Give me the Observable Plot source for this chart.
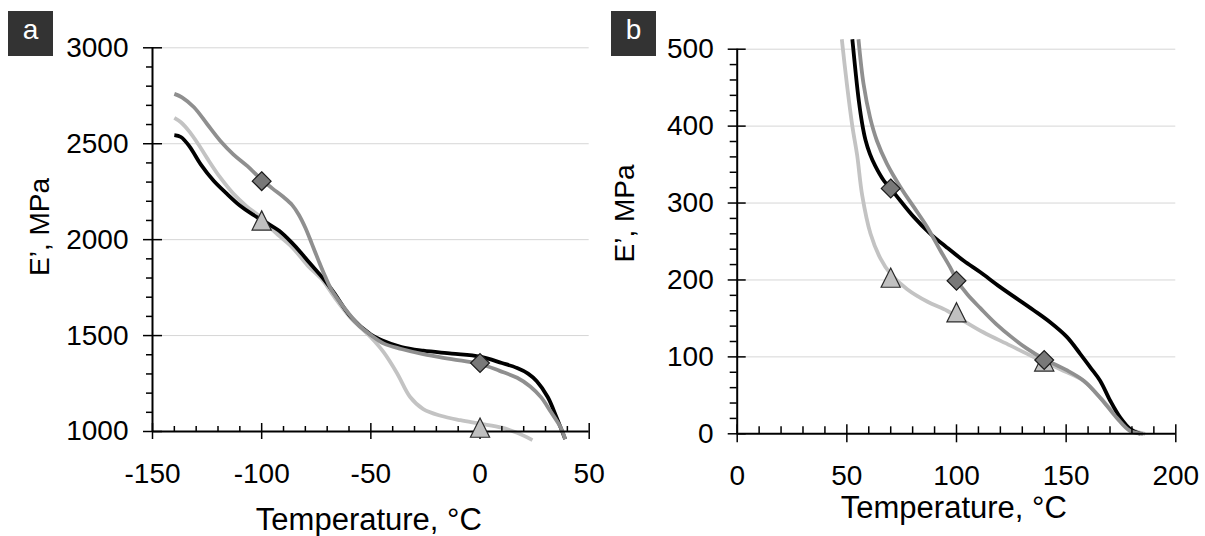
<!DOCTYPE html>
<html><head><meta charset="utf-8">
<script src="https://cdn.jsdelivr.net/npm/d3@7"></script>
<script src="https://cdn.jsdelivr.net/npm/@observablehq/plot@0.6"></script>
<style>
body{margin:0;background:#fff;}
#wrap{position:relative;width:1205px;height:536px;overflow:hidden;font-family:"Liberation Sans",Arial,sans-serif;background:#fff;}
.panel{position:absolute;top:0;}
.tag{position:absolute;background:#333;color:#fff;font-size:28px;line-height:37px;text-align:center;width:45px;height:45px;top:11px;}
</style></head><body>
<div id="wrap">
 <div id="pa" class="panel" style="left:0"></div>
 <div id="pb" class="panel" style="left:600px"></div>
 <div class="tag" style="left:8px">a</div>
 <div class="tag" style="left:611px">b</div>
</div>
<script>
const FONT = '"Liberation Sans", Arial, sans-serif';
const xTitle = "Temperature, °C";
const yTitle = "E’, MPa";

// ---------- panel a ----------
const aXTicks = [-150, -100, -50, 0, 50];
const aYTicks = [1000, 1500, 2000, 2500, 3000];
const aBlackT = [-140, -137, -133, -128, -122, -116, -110, -104, -98, -92, -86, -82, -78, -72, -67, -59, -50, -45, -36, -26, -13, 0, 10, 17, 22, 26, 31, 35, 39];
const aBlackE = [2545, 2535, 2485, 2394, 2307, 2240, 2178, 2130, 2090, 2046, 1982, 1932, 1878, 1800, 1725, 1595, 1505, 1476, 1440, 1421, 1406, 1390, 1357, 1331, 1302, 1262, 1180, 1075, 960];
const aMedT = [-140, -136.5, -131, -125, -119, -113, -106.5, -100, -95, -90, -86, -83, -80, -77, -74, -71, -68, -62, -56, -50, -44, -36, -26, -13, 0, 9, 17, 23, 28, 32, 37, 39];
const aMedE = [2760, 2742, 2690, 2603, 2516, 2445, 2383, 2312, 2266, 2222, 2180, 2130, 2062, 1978, 1892, 1810, 1738, 1642, 1560, 1503, 1458, 1430, 1403, 1377, 1352, 1316, 1280, 1235, 1178, 1110, 1020, 960];
const aLightT = [-140, -137, -133, -129, -125, -119, -113, -107, -100, -94, -86, -79, -72, -67, -59, -50, -44, -38, -32, -26, -18, -9, 0, 10, 17, 24];
const aLightE = [2635, 2612, 2562, 2497, 2425, 2324, 2240, 2175, 2112, 2040, 1960, 1866, 1787, 1705, 1589, 1491, 1411, 1304, 1180, 1117, 1082, 1059, 1041, 1020, 993, 955];
const aDiamondT = [-100, 0];
const aDiamondE = [2305, 1357];
const aTriangleT = [-100, 0];
const aTriangleE = [2100, 1020];

// ---------- panel b ----------
const bXTicks = [0, 50, 100, 150, 200];
const bYTicks = [0, 100, 200, 300, 400, 500];
const bBlackT = [52.5, 54, 55.5, 57, 58.5, 60.5, 63, 66.9, 70.2, 74.4, 80.5, 88.1, 95.7, 103.3, 110.9, 119.8, 135, 142.7, 150.3, 156.4, 161, 165.5, 170.1, 174.7, 179.3, 183.8];
const bBlackE = [513, 470, 432, 403, 382, 364, 348, 329, 318, 303, 282, 260, 242, 225, 210, 191, 161, 145, 126, 104, 86.5, 69, 43, 21, 6, 0];
const bMedT = [55.3, 57.6, 60.6, 63.7, 68.3, 74.4, 80.5, 86.6, 92.7, 97, 100.3, 105, 111, 118, 125, 132, 140, 150, 158, 165.5, 173, 179, 185];
const bMedE = [513, 455, 411, 381, 351, 321, 295, 269, 238, 217, 199, 181, 163, 143, 126, 111, 97, 83, 69, 47, 21, 4, 0];
const bLightT = [47.7, 50, 52.5, 54.7, 57, 60.8, 65.3, 69.9, 77.5, 86.6, 95.7, 100.3, 112.2, 124.4, 135, 147.3, 157.9, 165.5, 173.2, 179.3, 186];
const bLightE = [513, 455, 400, 362, 310, 260, 228, 208, 188, 172, 160, 152, 132, 115, 100, 84, 69, 47, 23, 6, 0];
const bDiamondT = [70, 100, 140];
const bDiamondE = [319, 199, 96];
const bTriangleT = [70, 100, 140];
const bTriangleE = [203, 158, 94];

// ---------- styles ----------
const C_BLACK = "#000000", C_MED = "#8f8f8f", C_LIGHT = "#c3c3c3", GRID = "#d6d6d6";
const rows = (T, E) => T.map((t, i) => ({T: t, E: E[i]}));
const diamondSym = {draw(ctx, size) { const r = Math.sqrt(size / Math.PI); ctx.moveTo(0, -r); ctx.lineTo(r, 0); ctx.lineTo(0, r); ctx.lineTo(-r, 0); ctx.closePath(); }};
const triSym = {draw(ctx, size) { const r = Math.sqrt(size / Math.PI); ctx.moveTo(0, -r); ctx.lineTo(r, r); ctx.lineTo(-r, r); ctx.closePath(); }};
const fmt = d => String(d);

function panel(o) {
  const minor = (ticks, step) => d3.range(ticks[0], ticks[ticks.length - 1] + step / 2, step).filter(v => !ticks.includes(v));
  const xMinor = minor(o.xTicks, o.xStep), yMinor = minor(o.yTicks, o.yStep);
  const line = (T, E, color) => Plot.line(rows(T, E), {x: "T", y: "E", stroke: color, strokeWidth: 3.8, curve: "catmull-rom", strokeLinejoin: "round", strokeLinecap: "butt"});
  return Plot.plot({
    width: o.width, height: 536,
    marginLeft: o.ml, marginRight: o.mr, marginTop: o.mt, marginBottom: o.mb,
    x: {domain: [o.xTicks[0], o.xTicks[o.xTicks.length - 1]]},
    y: {domain: [o.yTicks[0], o.yTicks[o.yTicks.length - 1]]},
    style: {fontFamily: FONT, background: "transparent", overflow: "visible", color: "black"},
    marks: [
      Plot.ruleY(o.yTicks.slice(1), {stroke: GRID, strokeWidth: 1}),
      line(o.lightT, o.lightE, C_LIGHT),
      line(o.blackT, o.blackE, C_BLACK),
      line(o.medT, o.medE, C_MED),
      Plot.ruleX([o.xTicks[0]], {stroke: "black", strokeWidth: 2}),
      Plot.ruleY([o.yTicks[0]], {stroke: "black", strokeWidth: 2}),
      Plot.axisY(o.yTicks, {tickSize: o.yMajIn + o.yMajOut, dx: o.yMajIn, fill: "none", strokeWidth: 1.5, label: null}),
      Plot.axisY(yMinor, {tickSize: o.yMinOut, fill: "none", strokeWidth: 1.5, label: null}),
      Plot.axisX(o.xTicks, {tickSize: o.xMajIn + o.xMajOut, dy: -o.xMajIn, fill: "none", strokeWidth: 1.5, label: null}),
      Plot.axisX(xMinor, {tickSize: o.xMinIn, dy: -o.xMinIn, fill: "none", strokeWidth: 1.5, label: null}),
      Plot.axisY(o.yTicks, {tickSize: 0, tickPadding: o.yLabPad, tickFormat: fmt, fontSize: 28, label: null}),
      Plot.axisX(o.xTicks, {tickSize: 0, tickPadding: 31.5, tickFormat: fmt, fontSize: 28, label: null}),
      Plot.dot(rows(o.triT, o.triE), {x: "T", y: "E", symbol: triSym, r: 9.6, fill: "#c0c0c0", stroke: "#2a2a2a", strokeWidth: 1.2}),
      Plot.dot(rows(o.diaT, o.diaE), {x: "T", y: "E", symbol: diamondSym, r: 9.4, fill: "#787878", stroke: "#1a1a1a", strokeWidth: 1.2}),
      Plot.text([xTitle], {frameAnchor: "bottom", text: d => d, fontSize: 31, lineAnchor: "middle", dx: o.xtDx, dy: o.xtDy}),
      Plot.text([yTitle], {frameAnchor: "left", text: d => d, fontSize: 28, rotate: -90, lineAnchor: "middle", textAnchor: "middle", dx: o.ytDx, dy: o.ytDy})
    ]
  });
}

document.getElementById("pa").append(panel({
  width: 600, ml: 152, mr: 11.3, mt: 47.3, mb: 105,
  xTicks: aXTicks, yTicks: aYTicks, xStep: 10, yStep: 100,
  blackT: aBlackT, blackE: aBlackE, medT: aMedT, medE: aMedE, lightT: aLightT, lightE: aLightE,
  diaT: aDiamondT, diaE: aDiamondE, triT: aTriangleT, triE: aTriangleE,
  yMajIn: 10, yMajOut: 9, yMinOut: 6, xMajIn: 8, xMajOut: 8, xMinIn: 5, yLabPad: 24,
  xtDx: -2, xtDy: 89, ytDx: -112, ytDy: -12.7
}));
document.getElementById("pb").append(panel({
  width: 605, ml: 136.7, mr: 29.7, mt: 48.7, mb: 102.7,
  xTicks: bXTicks, yTicks: bYTicks, xStep: 10, yStep: 20,
  blackT: bBlackT, blackE: bBlackE, medT: bMedT, medE: bMedE, lightT: bLightT, lightE: bLightE,
  diaT: bDiamondT, diaE: bDiamondE, triT: bTriangleT, triE: bTriangleE,
  yMajIn: 9, yMajOut: 9, yMinOut: 7, xMajIn: 9, xMajOut: 9, xMinIn: 7, yLabPad: 23.5,
  xtDx: -2.7, xtDy: 74, ytDx: -111.7, ytDy: -28
}));
</script>
</body></html>
